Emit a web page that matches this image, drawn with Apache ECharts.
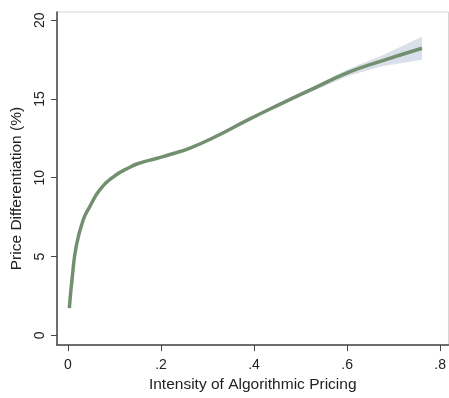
<!DOCTYPE html>
<html>
<head>
<meta charset="utf-8">
<script src="https://cdn.jsdelivr.net/npm/echarts@6/dist/echarts.min.js"></script>
<style>
html,body{margin:0;padding:0;background:#fff;}
#chart{width:449px;height:398px;}
</style>
</head>
<body>
<div id="chart"></div>
<script>
// Data
const xValues = [0.003, 0.009, 0.018, 0.033, 0.047, 0.068, 0.097, 0.133, 0.154, 0.19, 0.225, 0.261, 0.311, 0.39, 0.454, 0.518, 0.604, 0.675, 0.761];
const fitValues = [1.73, 3.6, 5.68, 7.34, 8.17, 9.21, 10.04, 10.67, 10.93, 11.22, 11.52, 11.87, 12.52, 13.72, 14.64, 15.53, 16.7, 17.42, 18.22];
const ciLower = [1.58, 3.5, 5.6, 7.27, 8.11, 9.15, 9.98, 10.61, 10.87, 11.16, 11.46, 11.81, 12.46, 13.64, 14.54, 15.39, 16.48, 17.08, 17.49];
const ciUpper = [1.88, 3.7, 5.76, 7.41, 8.23, 9.27, 10.1, 10.73, 10.99, 11.28, 11.58, 11.93, 12.58, 13.8, 14.74, 15.67, 16.92, 17.76, 18.95];
const xTickValues = [0, 0.2, 0.4, 0.6, 0.8];
const xTickLabels = ['0', '.2', '.4', '.6', '.8'];
const yTickValues = [0, 5, 10, 15, 20];
const yTickLabels = ['0', '5', '10', '15', '20'];

const fitData = xValues.map((x, i) => [x, fitValues[i]]);
const bandData = xValues.map((x, i) => [x, ciLower[i], ciUpper[i]]);

const FONT = 'Liberation Sans, Arial, Helvetica, sans-serif';
const chart = echarts.init(document.getElementById('chart'), null, {renderer: 'canvas'});
chart.setOption({
  animation: false,
  backgroundColor: '#ffffff',
  grid: {left: 57, right: -1, top: 12, bottom: 47, show: true, borderColor: '#d4d4d4', borderWidth: 1, backgroundColor: 'transparent'},
  xAxis: {
    type: 'value', min: -0.0235, max: 0.8178,
    name: 'Intensity of Algorithmic Pricing', nameLocation: 'middle', nameGap: 30,
    nameTextStyle: {fontFamily: FONT, fontSize: 15.5, color: '#222'},
    axisLine: {show: true, onZero: false, lineStyle: {color: '#444', width: 1.5}},
    axisTick: {show: true, length: 6, customValues: xTickValues, lineStyle: {color: '#444', width: 1}},
    axisLabel: {customValues: xTickValues, margin: 13, fontFamily: FONT, fontSize: 14, color: '#222',
      formatter: v => xTickLabels[xTickValues.findIndex(t => Math.abs(t - v) < 1e-9)] ?? ''},
    splitLine: {show: false}
  },
  yAxis: {
    type: 'value', min: -0.624, max: 20.52,
    name: 'Price Differentiation (%)', nameLocation: 'middle', nameGap: 32, nameRotate: 90,
    nameTextStyle: {fontFamily: FONT, fontSize: 15.5, color: '#222', padding: [0, 20, 0, 0]},
    axisLine: {show: true, onZero: false, lineStyle: {color: '#444', width: 1.5}},
    axisTick: {show: true, length: 6, customValues: yTickValues, lineStyle: {color: '#444', width: 1}},
    axisLabel: {customValues: yTickValues, rotate: 90, margin: 10, fontFamily: FONT, fontSize: 14, color: '#222',
      formatter: v => yTickLabels[yTickValues.findIndex(t => Math.abs(t - v) < 1e-9)] ?? ''},
    splitLine: {show: false}
  },
  series: [
    {type: 'custom', name: 'band', data: bandData, silent: true, z: 1,
      renderItem: function (params, api) {
        if (params.dataIndex !== 0) return null;
        const upper = bandData.map(d => api.coord([d[0], d[2]]));
        const lower = bandData.map(d => api.coord([d[0], d[1]])).reverse();
        return {type: 'polygon', shape: {points: upper.concat(lower), smooth: 0}, style: {fill: '#d9e0e9', stroke: null}};
      }
    },
    {type: 'line', name: 'fit', data: fitData, smooth: 0.5, showSymbol: false,
      lineStyle: {width: 3.5, color: '#72906f', cap: 'butt'}, z: 3}
  ]
});
</script>
</body>
</html>
